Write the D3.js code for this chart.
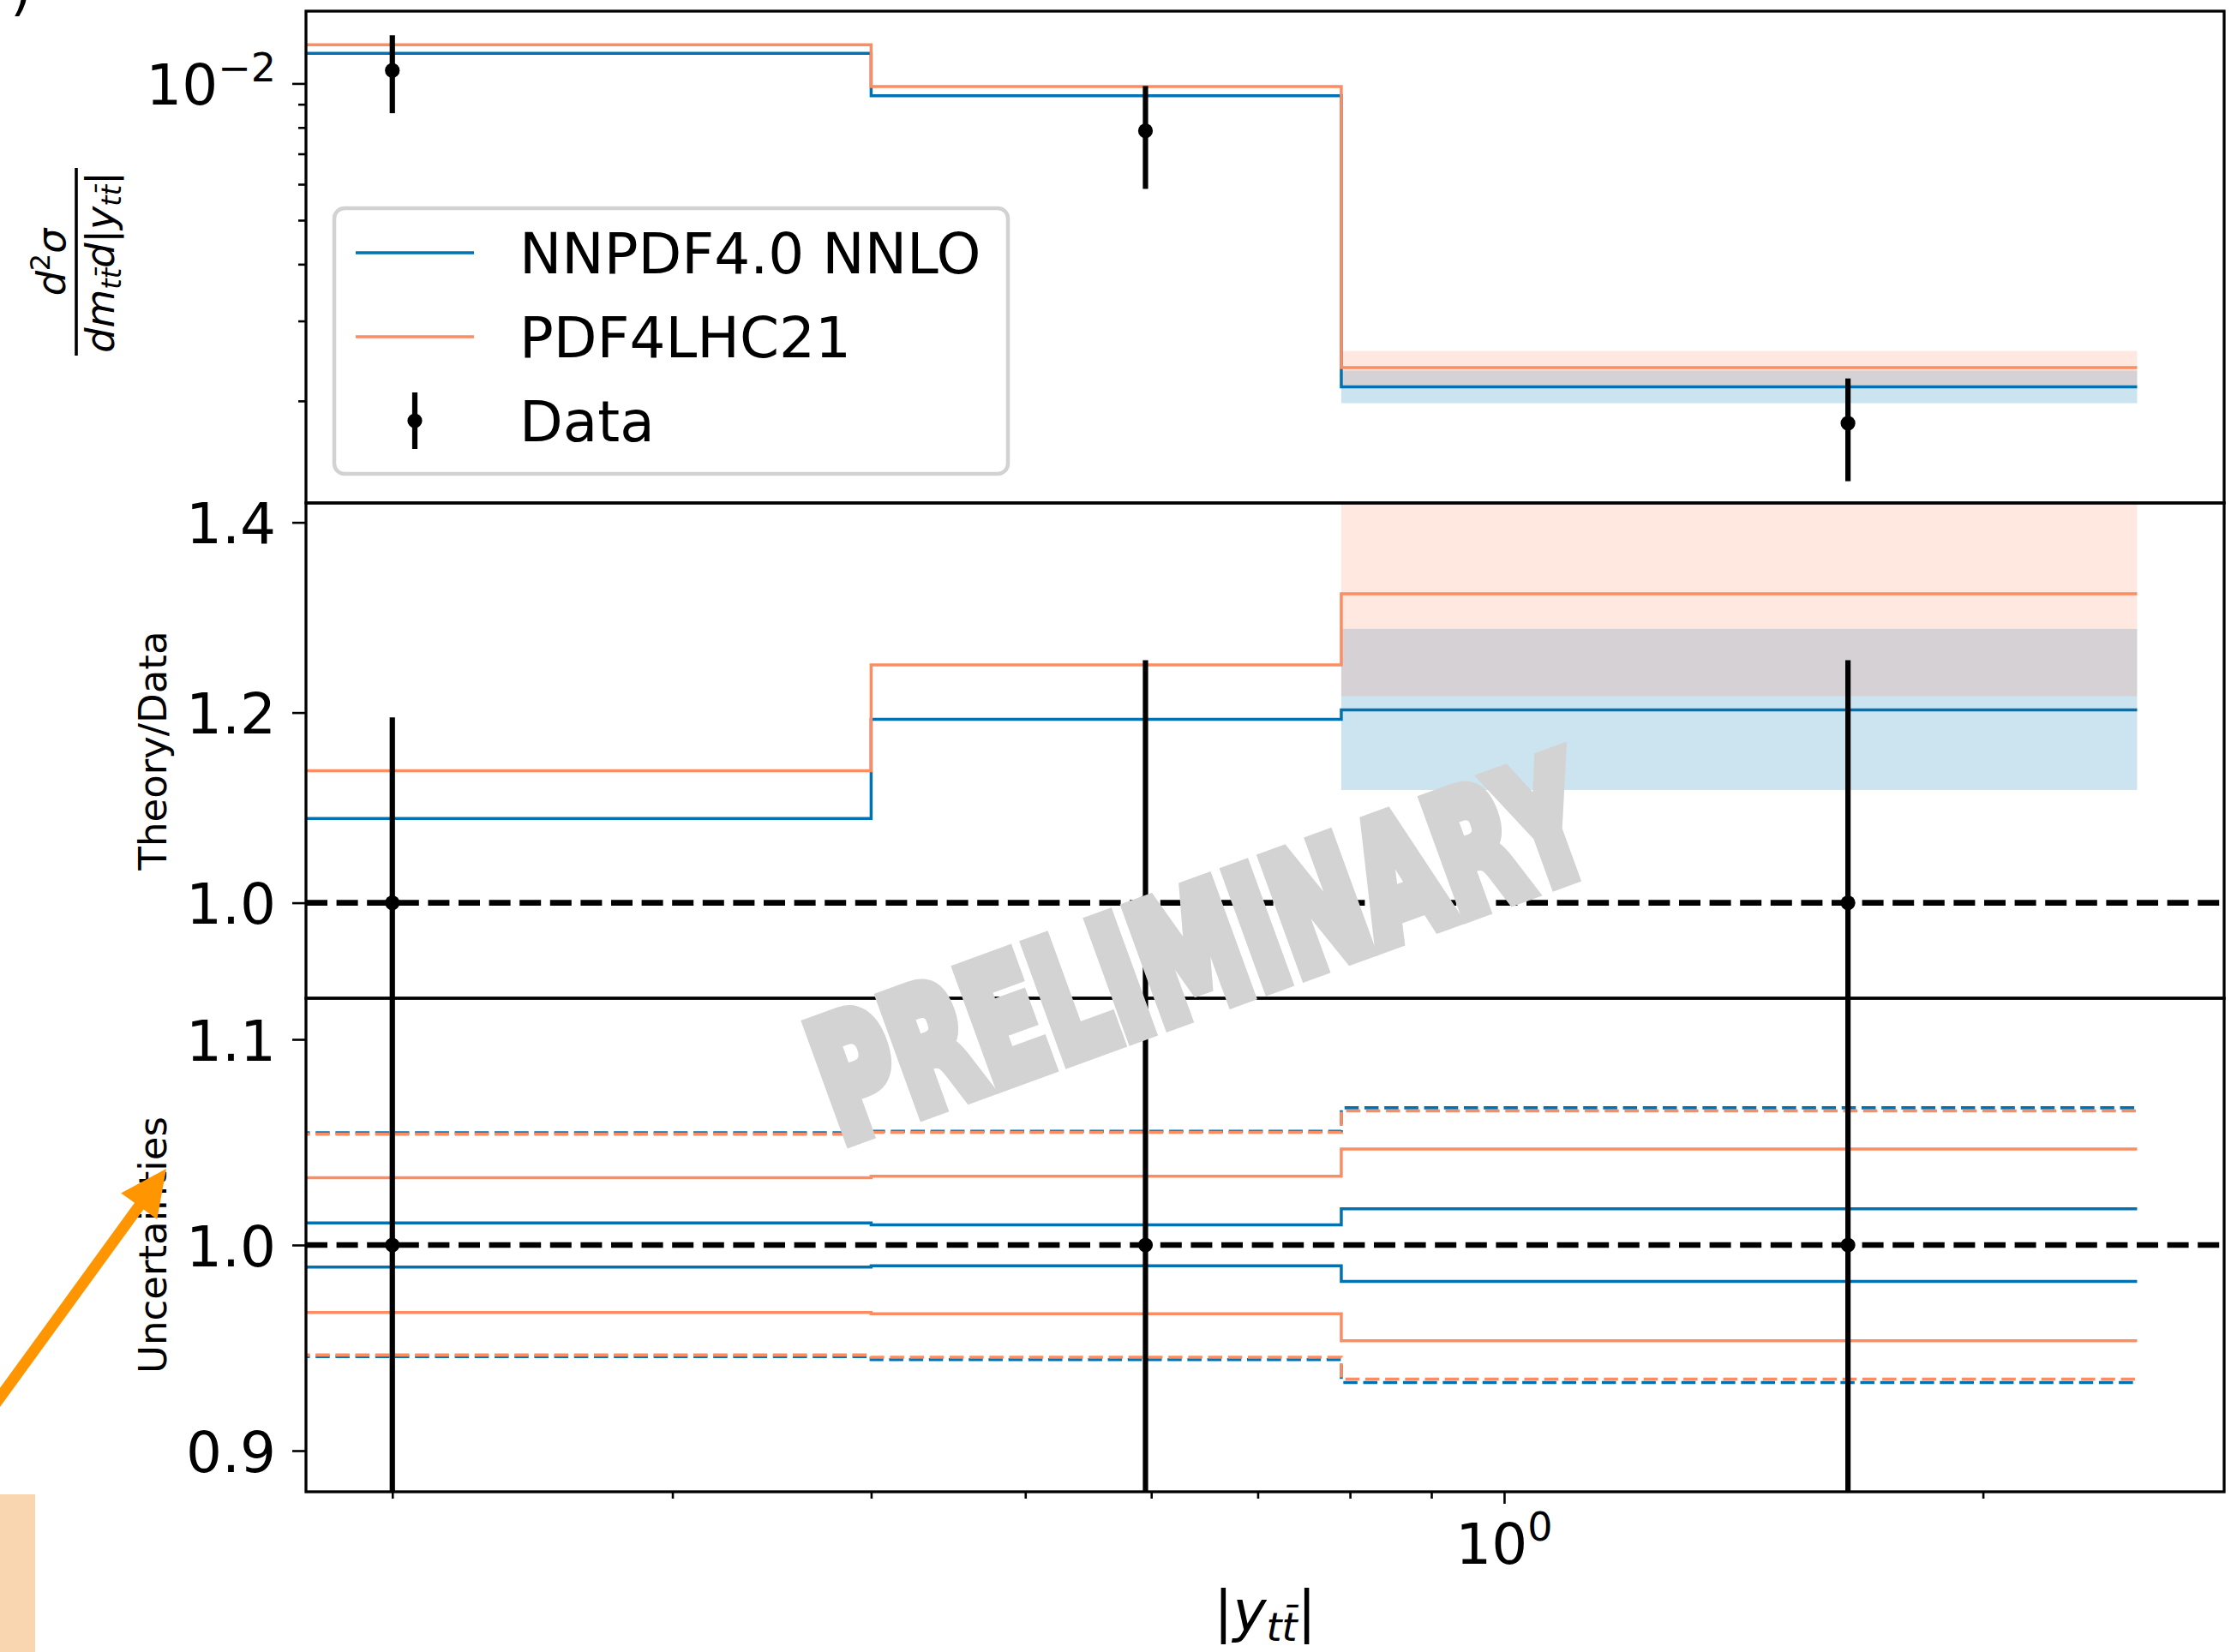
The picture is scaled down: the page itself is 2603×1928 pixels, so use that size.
<!DOCTYPE html>
<html>
<head>
<meta charset="utf-8">
<script src="https://cdn.jsdelivr.net/npm/d3@7"></script>
<style>
  body { margin: 0; background: #fff; }
  svg { display: block; }
</style>
</head>
<body>
<svg id="fig" width="2603" height="1928"></svg>
<script>
// ---------------- data ----------------
// |y_tt̄| bins (first bin starts at 0) and bin centres
const binEdges = [0, 0.4, 0.79, 2.5];
const binCenters = [0.2, 0.595, 1.645];

// double-differential cross section
const xsecNNPDF   = [0.011648, 0.009401, 0.002148];
const xsecPDF4LHC = [0.012165, 0.009849, 0.002368];
const xsecData    = [0.010683, 0.007866, 0.001786];
const xsecDataErr = [0.002083, 0.002006, 0.000455];
// PDF bands, last bin [low, high]
const bandNNPDFAbs   = [0.001977, 0.002333];
const bandPDF4LHCAbs = [0.002152, 0.002577];

// theory / data
const ratioNNPDF   = [1.0887, 1.193, 1.2028];
const ratioPDF4LHC = [1.1389, 1.250, 1.3249];
const ratioDataRelErr = [0.195, 0.255, 0.255];
const bandNNPDFRatio   = [1.1186, 1.288];
const bandPDF4LHCRatio = [1.2173, 1.45];

// relative uncertainties: PDF (solid) and total (dashed)
const pdfNNPDFUp     = [1.0107, 1.0098, 1.0176];
const pdfNNPDFDown   = [0.9893, 0.9899, 0.9823];
const pdfPDF4LHCUp   = [1.0327, 1.0334, 1.0467];
const pdfPDF4LHCDown = [0.9672, 0.9666, 0.9534];
const totNNPDFUp     = [1.0546, 1.0553, 1.0667];
const totNNPDFDown   = [0.9458, 0.9443, 0.9331];
const totPDF4LHCUp   = [1.0539, 1.0548, 1.0652];
const totPDF4LHCDown = [0.9465, 0.9454, 0.9348];

// ticks
const topMajorTicks = [0.01];
const topMinorTicks = [0.002, 0.003, 0.004, 0.005, 0.006, 0.007, 0.008, 0.009];
const ratioTicks = [1.0, 1.2, 1.4];
const uncTicks = [0.9, 1.0, 1.1];
const xMajorTicks = [1];
const xMinorTicks = [0.2, 0.3, 0.4, 0.5, 0.6, 0.7, 0.8, 0.9, 2];

const legendLabels = ["NNPDF4.0 NNLO", "PDF4LHC21", "Data"];

// ---------------- style ----------------
const BLUE = "#0072b2";
const ORANGE = "#fc8d62";
const FONT = "DejaVu Sans";
const FS = 66;      // tick / legend / x-label size
const FS_SUP = 46;  // superscripts

const svg = d3.select("#fig");

// ---------------- layout & scales ----------------
const L = 357, R = 2595;
const panels = {
  top: { y0: 13, y1: 587 },
  mid: { y0: 587, y1: 1165 },
  bot: { y0: 1165, y1: 1741 }
};

const x = d3.scaleLog().domain([0.1765, 2.8357]).range([L, R]);
const yTop = d3.scaleLog().domain([0.001192, 0.01443]).range([panels.top.y1, panels.top.y0]);
const yMid = d3.scaleLinear().domain([0.8996, 1.4204]).range([panels.mid.y1, panels.mid.y0]);
const yBot = d3.scaleLinear().domain([0.880, 1.120]).range([panels.bot.y1, panels.bot.y0]);

const xe = e => x(Math.max(e, x.domain()[0]));

// clip paths
const defs = svg.append("defs");
Object.entries(panels).forEach(([k, p]) => {
  defs.append("clipPath").attr("id", "clip-" + k)
    .append("rect").attr("x", L).attr("y", p.y0).attr("width", R - L).attr("height", p.y1 - p.y0);
});

function stepPoints(vals) {
  const pts = [];
  vals.forEach((v, i) => {
    pts.push([binEdges[i], v]);
    pts.push([binEdges[i + 1], v]);
  });
  return pts;
}
function drawStep(g, vals, yScale, color, opts = {}) {
  const line = d3.line().x(d => xe(d[0])).y(d => yScale(d[1]));
  const p = g.append("path")
    .attr("d", line(stepPoints(vals)))
    .attr("fill", "none")
    .attr("stroke", color)
    .attr("stroke-width", opts.width || 3.5);
  if (opts.dash) p.attr("stroke-dasharray", opts.dash).attr("stroke-dashoffset", opts.offset || 0);
  return p;
}
function drawBand(g, band, yScale, color) {
  const i = binEdges.length - 2;
  g.append("rect")
    .attr("x", xe(binEdges[i]))
    .attr("width", xe(binEdges[i + 1]) - xe(binEdges[i]))
    .attr("y", yScale(band[1]))
    .attr("height", yScale(band[0]) - yScale(band[1]))
    .attr("fill", color).attr("fill-opacity", 0.2);
}
function drawData(g, xs, ys, lo, hi, yScale) {
  xs.forEach((xv, i) => {
    g.append("line")
      .attr("x1", x(xv)).attr("x2", x(xv))
      .attr("y1", yScale(lo[i])).attr("y2", yScale(hi[i]))
      .attr("stroke", "#000").attr("stroke-width", 6.2);
    g.append("circle")
      .attr("cx", x(xv)).attr("cy", yScale(ys[i])).attr("r", 8.6).attr("fill", "#000");
  });
}
function unityLine(g, yScale) {
  g.append("line")
    .attr("x1", L).attr("x2", R)
    .attr("y1", yScale(1)).attr("y2", yScale(1))
    .attr("stroke", "#000").attr("stroke-width", 6.7)
    .attr("stroke-dasharray", "25,10.6");
}

// ---------------- top panel: cross section ----------------
const gTop = svg.append("g").attr("clip-path", "url(#clip-top)");
drawBand(gTop, bandNNPDFAbs, yTop, BLUE);
drawBand(gTop, bandPDF4LHCAbs, yTop, ORANGE);
drawStep(gTop, xsecNNPDF, yTop, BLUE);
drawStep(gTop, xsecPDF4LHC, yTop, ORANGE);
drawData(gTop, binCenters, xsecData,
  xsecData.map((v, i) => v - xsecDataErr[i]),
  xsecData.map((v, i) => v + xsecDataErr[i]), yTop);

// ---------------- middle panel: theory / data ----------------
const gMid = svg.append("g").attr("clip-path", "url(#clip-mid)");
drawBand(gMid, bandNNPDFRatio, yMid, BLUE);
drawBand(gMid, bandPDF4LHCRatio, yMid, ORANGE);
drawStep(gMid, ratioNNPDF, yMid, BLUE);
drawStep(gMid, ratioPDF4LHC, yMid, ORANGE);
unityLine(gMid, yMid);
drawData(gMid, binCenters, binCenters.map(() => 1),
  ratioDataRelErr.map(e => 1 - e), ratioDataRelErr.map(e => 1 + e), yMid);

// ---------------- bottom panel: uncertainties ----------------
const gBot = svg.append("g").attr("clip-path", "url(#clip-bot)");
drawStep(gBot, pdfNNPDFUp, yBot, BLUE);
drawStep(gBot, pdfNNPDFDown, yBot, BLUE);
drawStep(gBot, pdfPDF4LHCUp, yBot, ORANGE);
drawStep(gBot, pdfPDF4LHCDown, yBot, ORANGE);
const dashed = { dash: "16.5,6.7", offset: 12, width: 3.6 };
drawStep(gBot, totNNPDFUp, yBot, BLUE, dashed);
drawStep(gBot, totNNPDFDown, yBot, BLUE, dashed);
drawStep(gBot, totPDF4LHCUp, yBot, ORANGE, dashed);
drawStep(gBot, totPDF4LHCDown, yBot, ORANGE, dashed);
unityLine(gBot, yBot);
drawData(gBot, binCenters, binCenters.map(() => 1),
  ratioDataRelErr.map(e => 1 - e), ratioDataRelErr.map(e => 1 + e), yBot);

// ---------------- spines ----------------
Object.values(panels).forEach(p => {
  svg.append("rect")
    .attr("x", L).attr("y", p.y0).attr("width", R - L).attr("height", p.y1 - p.y0)
    .attr("fill", "none").attr("stroke", "#000").attr("stroke-width", 3.3);
});

// ---------------- axes ----------------
function styleAxis(g) {
  g.select(".domain").remove();
  g.attr("font-family", FONT).attr("font-size", FS);
  g.selectAll(".tick line").attr("stroke", "#000").attr("stroke-width", 2.6);
  g.selectAll(".tick text").attr("fill", "#000");
}

// top: log y
svg.append("g").attr("transform", `translate(${L},0)`)
  .call(d3.axisLeft(yTop).tickValues(topMinorTicks).tickSize(9).tickFormat(""))
  .call(styleAxis);
svg.append("g").attr("transform", `translate(${L},0)`)
  .call(d3.axisLeft(yTop).tickValues(topMajorTicks).tickSize(16).tickFormat(""))
  .call(styleAxis);
topMajorTicks.forEach(v => {
  const t = svg.append("text").attr("font-family", FONT).attr("font-size", FS)
    .attr("x", 322).attr("y", yTop(v) + 25).attr("text-anchor", "end");
  const exp = Math.round(Math.log10(v));
  t.append("tspan").text("10");
  t.append("tspan").attr("font-size", FS_SUP).attr("dy", -27).text(String(exp).replace("-", "\u2212"));
});

// middle and bottom: linear y
[[yMid, ratioTicks], [yBot, uncTicks]].forEach(([sc, ticks]) => {
  svg.append("g").attr("transform", `translate(${L},0)`)
    .call(d3.axisLeft(sc).tickValues(ticks).tickSize(16).tickPadding(19).tickFormat(d3.format(".1f")))
    .call(styleAxis)
    .call(g => g.selectAll(".tick text").attr("dy", "0.365em"));
});

// bottom x axis (log)
const yAxisX = panels.bot.y1;
svg.append("g").attr("transform", `translate(0,${yAxisX})`)
  .call(d3.axisBottom(x).tickValues(xMinorTicks).tickSize(8).tickFormat(""))
  .call(styleAxis);
svg.append("g").attr("transform", `translate(0,${yAxisX})`)
  .call(d3.axisBottom(x).tickValues(xMajorTicks).tickSize(14).tickFormat(""))
  .call(styleAxis);
xMajorTicks.forEach(v => {
  const t = svg.append("text").attr("font-family", FONT).attr("font-size", FS)
    .attr("x", x(v)).attr("y", 1825).attr("text-anchor", "middle");
  t.append("tspan").text("10");
  t.append("tspan").attr("font-size", FS_SUP).attr("dy", -27).text(String(Math.round(Math.log10(v))));
});

// ---------------- axis labels ----------------
// x label |y_tt̄|
{
  const t = svg.append("text").attr("font-family", FONT).attr("font-size", FS)
    .attr("x", (L + R) / 2).attr("y", 1903).attr("text-anchor", "middle");
  t.append("tspan").text("|");
  t.append("tspan").attr("font-style", "italic").text("y");
  t.append("tspan").attr("font-style", "italic").attr("font-size", FS_SUP).attr("dy", 12).text("tt\u0304");
  t.append("tspan").attr("dy", -12).text("|");
}

// top y label: fraction d²σ / (dm_tt̄ d|y_tt̄|)
{
  const cy = (panels.top.y0 + panels.top.y1) / 2 + 6;
  const g = svg.append("g").attr("transform", `translate(89,${cy}) rotate(-90)`)
    .attr("font-family", FONT).attr("font-size", 46);
  const num = g.append("text").attr("text-anchor", "middle").attr("y", -13);
  num.append("tspan").attr("font-style", "italic").text("d");
  num.append("tspan").attr("font-size", 32).attr("dy", -18).text("2");
  num.append("tspan").attr("font-style", "italic").attr("dy", 18).text("\u03c3");
  g.append("line").attr("x1", -109).attr("x2", 110).attr("y1", 0).attr("y2", 0)
    .attr("stroke", "#000").attr("stroke-width", 3.6);
  const den = g.append("text").attr("text-anchor", "middle").attr("y", 44);
  den.append("tspan").attr("font-style", "italic").text("dm");
  den.append("tspan").attr("font-style", "italic").attr("font-size", 32).attr("dy", 8).text("tt\u0304");
  den.append("tspan").attr("font-style", "italic").attr("dy", -8).text("d");
  den.append("tspan").text("|");
  den.append("tspan").attr("font-style", "italic").text("y");
  den.append("tspan").attr("font-style", "italic").attr("font-size", 32).attr("dy", 8).text("tt\u0304");
  den.append("tspan").attr("dy", -8).text("|");
}

// middle & bottom y labels
[["Theory/Data", panels.mid], ["Uncertainties", panels.bot]].forEach(([txt, p]) => {
  svg.append("text")
    .attr("transform", `translate(194,${(p.y0 + p.y1) / 2}) rotate(-90)`)
    .attr("font-family", FONT).attr("font-size", 45)
    .attr("text-anchor", "middle").text(txt);
});

// ---------------- legend ----------------
{
  const g = svg.append("g");
  g.append("rect").attr("x", 390).attr("y", 243).attr("width", 786).attr("height", 310)
    .attr("rx", 12).attr("fill", "#fff").attr("fill-opacity", 0.8)
    .attr("stroke", "#d2d2d2").attr("stroke-width", 4.5);
  const rows = [295, 393, 491];
  [BLUE, ORANGE].forEach((c, i) => {
    g.append("line").attr("x1", 415).attr("x2", 553).attr("y1", rows[i]).attr("y2", rows[i])
      .attr("stroke", c).attr("stroke-width", 3.5);
  });
  g.append("line").attr("x1", 484).attr("x2", 484).attr("y1", rows[2] - 33).attr("y2", rows[2] + 33)
    .attr("stroke", "#000").attr("stroke-width", 6.2);
  g.append("circle").attr("cx", 484).attr("cy", rows[2]).attr("r", 8.6).attr("fill", "#000");
  legendLabels.forEach((lab, i) => {
    g.append("text").attr("x", 606).attr("y", rows[i] + 24)
      .attr("font-family", FONT).attr("font-size", FS).text(lab);
  });
}

// ---------------- watermark ----------------
svg.append("text")
  .attr("transform", "translate(1400,1106) rotate(-20)")
  .attr("x", -472).attr("y", 70)
  .attr("textLength", 944).attr("lengthAdjust", "spacingAndGlyphs")
  .attr("font-family", FONT).attr("font-weight", "bold").attr("font-size", 192)
  .attr("fill", "#d3d3d3").attr("stroke", "#d3d3d3").attr("stroke-width", 19)
  .attr("stroke-linejoin", "miter")
  .text("PRELIMINARY");

// ---------------- slide annotations ----------------
// partial panel letter at the top-left corner
svg.append("text").attr("x", 12).attr("y", 9.5)
  .attr("font-family", FONT).attr("font-size", 65).text(")");

// orange highlight box at the bottom-left
svg.append("rect").attr("x", 0).attr("y", 1744).attr("width", 41).attr("height", 184)
  .attr("fill", "#fad6b0");

// orange arrow pointing at the uncertainty label
{
  const tip = [194, 1364];
  const dir = [0.588, -0.809];
  const nrm = [-dir[1], dir[0]];
  const headLen = 54, headW = 52, shaftW = 13, tailLen = 520;
  const base = [tip[0] - dir[0] * headLen, tip[1] - dir[1] * headLen];
  const tail = [tip[0] - dir[0] * tailLen, tip[1] - dir[1] * tailLen];
  const pt = (p, k) => [p[0] + nrm[0] * k, p[1] + nrm[1] * k];
  const poly = [
    pt(tail, shaftW / 2), pt(base, shaftW / 2), pt(base, headW / 2), tip,
    pt(base, -headW / 2), pt(base, -shaftW / 2), pt(tail, -shaftW / 2)
  ];
  svg.append("path").attr("d", "M" + poly.map(p => p.join(",")).join("L") + "Z")
    .attr("fill", "#ff9500");
}
</script>
</body>
</html>
